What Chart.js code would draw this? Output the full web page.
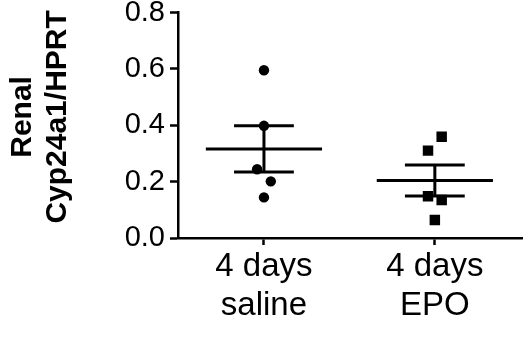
<!DOCTYPE html>
<html lang="en">
<head>
<meta charset="UTF-8">
<title>Renal Cyp24a1/HPRT</title>
<script src="https://cdn.jsdelivr.net/npm/chart.js@4.4.1/dist/chart.umd.min.js"></script>
<style>
  html, body { margin: 0; padding: 0; background: #fff; }
  #wrap { width: 526px; height: 337px; position: relative; }
</style>
</head>
<body>
<div id="wrap"><canvas id="dotPlot"></canvas></div>
<script>
// group labels and positions on the x axis
const groupLabels = [['4 days', 'saline'], ['4 days', 'EPO']];
const groupPos = [1, 2];

// individual animals (y) and their sideways spread around the group position
const salineValues = [0.595, 0.398, 0.244, 0.201, 0.144];
const salineSpread = [0, 0, -0.04, 0.04, 0];
const epoValues = [0.359, 0.310, 0.148, 0.135, 0.064];
const epoSpread = [0.04, -0.04, -0.04, 0.04, 0];

// mean and SEM per group
const groupMeans = [0.316, 0.204];
const groupSEM = [0.082, 0.055];

// y axis ticks
const yTicks = [0, 0.2, 0.4, 0.6, 0.8];

const FONT = "'Liberation Sans', Arial, Helvetica, sans-serif";
const MEAN_HALF = 0.34;
const CAP_HALF = 0.175;

function hline(y, x, half) {
  return {
    type: 'line',
    data: [{x: x - half, y: y}, {x: x + half, y: y}],
    borderColor: '#000',
    borderWidth: 3,
    pointRadius: 0,
    borderCapStyle: 'butt',
  };
}

function vline(x, y0, y1) {
  return {
    type: 'line',
    data: [{x: x, y: y0}, {x: x, y: y1}],
    borderColor: '#000',
    borderWidth: 3,
    pointRadius: 0,
  };
}

const datasets = [];
groupPos.forEach((x, i) => {
  const m = groupMeans[i], s = groupSEM[i];
  datasets.push(hline(m, x, MEAN_HALF));
  datasets.push(hline(m + s, x, CAP_HALF));
  datasets.push(hline(m - s, x, CAP_HALF));
  datasets.push(vline(x, m - s, m + s));
});

datasets.push({
  type: 'scatter',
  data: salineValues.map((v, i) => ({x: groupPos[0] + salineSpread[i], y: v})),
  pointStyle: 'circle',
  pointRadius: 5.2,
  backgroundColor: '#000',
  borderColor: '#000',
  borderWidth: 0,
});
datasets.push({
  type: 'scatter',
  data: epoValues.map((v, i) => ({x: groupPos[1] + epoSpread[i], y: v})),
  pointStyle: 'rect',
  pointRadius: 7.4,
  backgroundColor: '#000',
  borderColor: '#000',
  borderWidth: 0,
});

new Chart(document.getElementById('dotPlot'), {
  type: 'scatter',
  data: { datasets: datasets },
  options: {
    responsive: true,
    maintainAspectRatio: false,
    animation: false,
    layout: { autoPadding: false, padding: { top: 12.5, right: 4, left: 0, bottom: 0 } },
    plugins: { legend: { display: false }, tooltip: { enabled: false } },
    scales: {
      x: {
        type: 'linear',
        min: 0.497,
        max: 2.51,
        afterBuildTicks: (scale) => { scale.ticks = groupPos.map(v => ({value: v})); },
        afterFit: (scale) => {
          scale.height = 99;
          scale.paddingLeft = 0; scale.paddingRight = 0;
        },
        grid: { drawOnChartArea: false, drawTicks: true, tickLength: 7, tickWidth: 2.5, tickColor: '#000' },
        border: { display: true, width: 2.5, color: '#000' },
        ticks: {
          color: '#000',
          padding: 3,
          maxRotation: 0,
          autoSkip: false,
          font: { family: FONT, size: 33, lineHeight: 1.16 },
          callback: (v) => groupLabels[groupPos.indexOf(v)] || '',
        },
      },
      y: {
        min: 0,
        max: 0.8,
        afterBuildTicks: (scale) => { scale.ticks = yTicks.map(v => ({value: v})); },
        afterFit: (scale) => {
          scale.width = 178;
          scale.paddingTop = 0; scale.paddingBottom = 0;
        },
        grid: { drawOnChartArea: false, drawTicks: true, tickLength: 8, tickWidth: 2.5, tickColor: '#000' },
        border: { display: true, width: 2.5, color: '#000' },
        ticks: {
          color: '#000',
          padding: 5,
          font: { family: FONT, size: 29 },
          callback: (v) => v.toFixed(1),
        },
        title: {
          display: true,
          // leading spaces lift the rotated title a little above the axis centre
          text: ['\u0020\u0020Renal', '\u0020\u0020Cyp24a1/HPRT'],
          color: '#000',
          padding: { top: 5, bottom: 0 },
          font: { family: FONT, size: 30, weight: 'bold', lineHeight: 1.17 },
        },
      },
    },
  },
});
</script>
</body>
</html>
